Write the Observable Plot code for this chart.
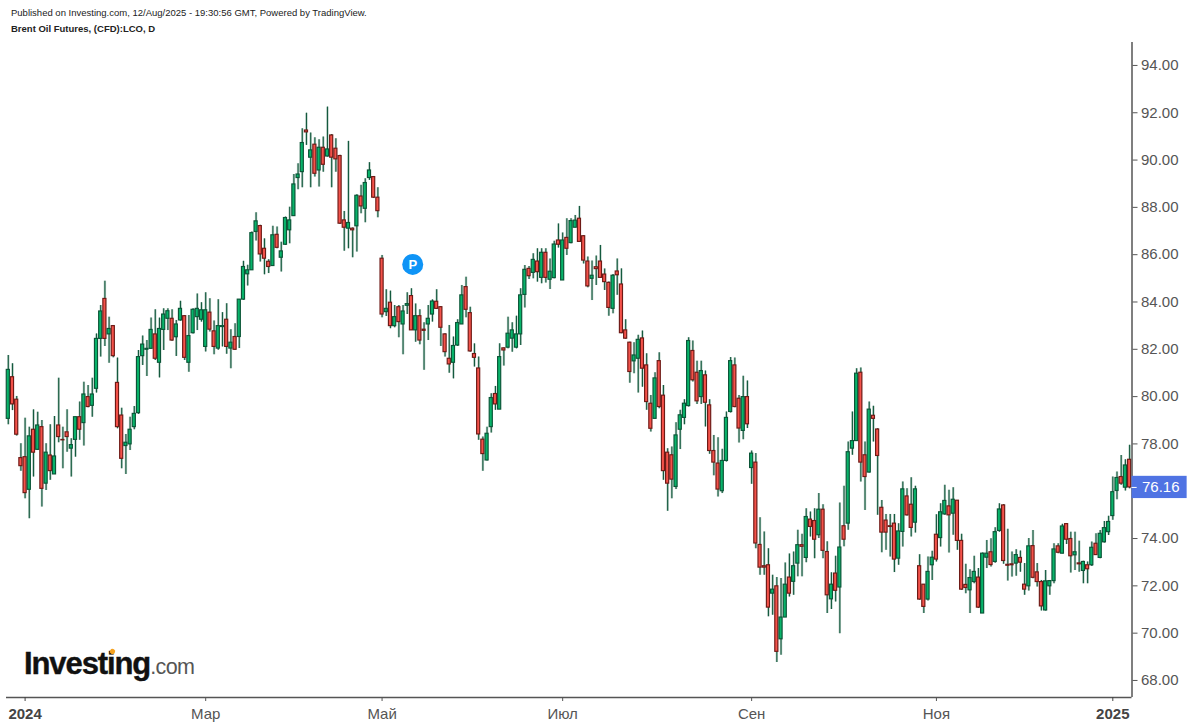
<!DOCTYPE html>
<html>
<head>
<meta charset="utf-8">
<script src="https://cdn.jsdelivr.net/npm/d3@7"></script>
<script src="https://cdn.jsdelivr.net/npm/@observablehq/plot@0.6"></script>
<style>
html,body{margin:0;padding:0;background:#fff;font-family:"Liberation Sans",Arial,sans-serif;}
#wrap{position:relative;width:1200px;height:728px;overflow:hidden;}
.h1{position:absolute;left:11px;top:7px;font-size:9.5px;color:#222;white-space:nowrap;}
.h2{position:absolute;left:11px;top:23px;font-size:9.5px;font-weight:bold;color:#222;white-space:nowrap;}
.logo{position:absolute;left:24px;top:644px;white-space:nowrap;font-size:31px;line-height:40px;font-weight:bold;color:#111;letter-spacing:-1.1px;-webkit-text-stroke:.4px #111;}
.logo span{font-size:21.5px;font-weight:normal;color:#555;letter-spacing:-.6px;-webkit-text-stroke:0;}
.dot{position:absolute;left:110px;top:649px;width:5px;height:5px;background:#f5a11f;border-radius:2px;transform:rotate(30deg);}
svg{display:block;}
</style>
</head>
<body>
<div id="wrap">
<div class="h1">Published on Investing.com, 12/Aug/2025 - 19:30:56 GMT, Powered by TradingView.</div>
<div class="h2">Brent Oil Futures, (CFD):LCO, D</div>
<div id="chart"></div>
<div class="logo">Investing<span>.com</span></div>
<div class="dot"></div>
</div>
<script>
const opens=[79.06,80.82,79.87,77.40,77.44,76.06,78.60,77.75,78.71,76.32,
77.51,76.71,78.78,78.17,78.49,77.80,78.17,79.13,78.88,79.98,
79.61,80.33,82.44,84.13,82.63,82.98,80.58,79.20,77.91,77.98,
78.71,79.30,81.71,81.98,82.02,82.63,81.43,82.82,83.29,83.29,
82.51,83.22,83.40,81.43,82.68,83.36,83.25,82.10,83.55,82.76,
82.03,82.94,83.25,82.03,82.52,82.52,84.10,85.17,85.34,86.96,
87.21,86.25,85.70,85.52,86.84,85.87,86.42,87.03,87.63,89.24,
89.49,91.25,90.10,90.65,89.56,90.52,90.15,91.04,90.48,90.17,
87.45,87.10,87.10,87.20,88.46,87.94,89.24,89.28,88.41,85.83,
83.57,83.97,82.98,83.78,83.05,83.84,84.25,82.80,83.40,82.83,
83.05,83.47,84.01,83.78,82.63,81.60,81.43,82.16,83.05,84.63,
83.53,81.80,81.19,78.18,77.30,78.71,80.11,79.45,82.04,82.07,
82.45,82.07,82.63,84.30,85.40,85.23,85.71,85.02,86.08,84.94,
85.01,86.60,84.91,86.71,86.49,87.14,87.52,86.78,85.71,84.98,
85.47,85.71,85.16,84.81,83.71,85.29,84.74,82.80,82.28,81.49,
81.60,82.46,81.32,79.70,79.06,81.50,80.04,77.63,77.52,76.18,
78.60,79.10,79.60,81.93,81.01,79.98,80.90,79.63,77.70,77.17,
76.00,77.28,79.35,81.32,79.91,78.55,79.98,76.98,77.21,73.73,
72.83,72.87,71.67,71.98,69.74,70.66,72.35,72.17,72.94,73.72,
73.18,74.80,74.74,74.14,75.22,73.43,71.43,72.52,71.93,74.52,
74.63,77.80,78.12,81.01,77.52,76.79,79.19,78.61,75.30,74.76,
74.52,74.63,73.15,74.28,75.78,75.43,74.67,72.83,72.05,71.42,
72.87,74.16,74.02,75.02,75.36,75.05,75.60,73.90,72.04,71.81,
72.16,72.35,70.83,73.19,73.42,73.01,74.32,75.40,72.89,72.91,
72.94,73.18,72.05,71.98,73.68,72.57,72.16,70.96,71.98,72.20,
73.67,73.36,74.61,73.98,73.29,72.95,72.63,72.87,72.87,73.78,
73.18,73.84,74.27,74.95,76.01,76.60,76.15,77.33];
const closes=[81.13,79.67,78.39,77.06,75.92,78.32,77.63,78.78,76.10,77.63,
76.85,77.47,78.29,78.15,78.29,77.95,79.13,78.60,80.09,79.56,
80.09,82.44,83.60,82.44,82.86,81.71,78.71,77.37,78.05,78.60,
79.27,81.67,82.20,82.02,82.82,81.60,82.86,83.47,83.61,82.37,
83.05,83.71,81.64,82.56,83.67,83.71,83.65,83.65,82.83,82.10,
82.98,82.98,82.10,82.28,81.98,84.10,85.48,85.34,86.91,87.41,
86.01,85.83,85.48,86.82,86.29,86.14,87.55,87.45,88.97,89.39,
90.72,91.17,90.41,89.42,90.52,89.80,90.45,90.10,90.03,87.31,
87.14,87.34,87.03,88.49,88.04,89.03,89.56,88.41,87.84,83.47,
83.71,82.98,83.36,83.15,83.60,83.91,82.80,83.40,82.37,82.78,
83.29,84.02,83.71,82.91,81.88,81.36,82.14,83.11,84.28,83.67,
81.91,81.64,78.40,77.57,78.43,79.94,79.67,81.67,81.95,82.66,
82.80,82.63,84.28,85.36,85.09,85.78,85.26,86.08,85.02,85.28,
86.43,86.42,86.60,86.25,87.42,87.44,86.54,85.75,84.66,85.11,
85.39,85.02,84.84,83.75,85.11,85.13,82.68,82.45,81.04,81.74,
82.40,81.18,79.77,78.64,80.77,79.56,76.85,76.32,76.49,78.36,
79.21,79.70,82.35,80.69,79.80,81.08,79.74,77.70,77.21,76.07,
77.28,79.10,81.50,79.56,78.65,79.98,78.83,77.59,73.79,72.77,
72.77,71.08,71.84,69.21,70.66,72.05,71.67,72.83,73.72,73.65,
74.91,74.49,73.95,75.22,73.48,71.60,72.05,71.79,73.62,73.95,
77.65,78.12,80.97,77.21,76.60,79.45,79.06,77.49,74.25,74.25,
74.49,73.11,74.30,76.08,74.98,74.45,76.08,71.42,71.11,72.59,
73.19,73.11,75.11,75.59,74.98,75.64,73.90,71.84,71.91,72.33,
72.59,71.08,73.36,73.36,72.88,74.27,75.23,73.05,72.85,72.87,
73.30,72.98,71.84,73.67,72.34,72.16,71.13,72.19,72.20,73.54,
73.40,74.51,73.95,73.25,73.42,72.91,73.01,72.70,73.61,73.30,
74.20,74.44,74.70,75.96,76.56,76.32,77.09,76.16];
const highs=[81.74,81.39,80.01,78.01,79.09,78.71,79.44,79.34,78.99,78.01,
78.81,79.16,80.78,78.71,79.44,78.22,79.13,79.77,80.61,80.47,
80.78,82.65,83.85,84.88,83.36,83.01,81.63,79.51,78.40,79.13,
79.58,81.95,82.56,82.37,83.32,83.67,83.32,83.71,83.71,83.67,
83.22,84.03,83.43,83.43,83.71,84.34,83.97,84.39,84.14,83.20,
84.10,83.55,83.93,82.83,83.08,84.10,85.72,85.55,86.96,87.77,
87.24,86.67,85.79,87.20,87.17,86.53,87.59,88.01,89.39,89.84,
91.32,91.98,91.14,90.94,90.86,90.97,92.24,91.08,90.90,90.20,
87.83,90.79,87.13,88.53,88.93,89.21,89.89,89.31,88.83,85.97,
84.52,84.46,83.85,83.85,83.85,84.39,84.56,83.92,83.67,83.12,
83.85,84.09,84.52,83.81,82.66,83.01,82.52,83.25,84.70,85.05,
83.78,82.23,81.67,78.29,78.71,80.12,80.43,82.23,82.06,83.36,
83.12,83.40,84.56,85.54,85.50,86.04,86.25,86.25,86.25,85.82,
86.57,87.30,86.92,87.52,87.52,87.66,88.04,86.81,85.90,85.73,
85.94,86.39,85.40,84.84,85.16,85.82,85.40,83.25,82.30,82.28,
82.59,82.77,81.81,80.05,81.01,81.85,80.47,77.80,77.87,78.90,
79.42,79.87,82.49,82.35,81.50,81.50,81.08,79.87,78.36,78.26,
77.77,79.35,81.65,81.63,80.05,80.86,80.66,77.70,77.59,74.88,
74.28,73.57,72.45,72.35,72.31,72.97,73.35,73.43,74.35,74.18,
75.26,75.12,75.26,75.90,75.43,73.86,72.55,73.25,75.50,76.21,
78.08,79.35,81.18,81.21,78.08,79.77,79.59,78.64,75.61,75.02,
75.02,75.02,74.63,76.39,76.11,76.57,76.21,73.32,72.06,73.22,
73.46,75.01,75.47,76.25,76.04,76.15,75.61,74.18,72.91,72.68,
73.25,72.73,73.39,73.92,73.99,74.46,75.47,75.44,74.39,73.43,
73.53,73.47,72.94,74.00,74.34,72.94,72.23,72.65,72.23,73.78,
73.78,74.60,74.63,74.27,74.27,73.89,73.04,73.01,73.85,74.20,
74.34,74.72,74.94,76.60,76.81,77.51,77.33,77.94];
const lows=[78.81,79.41,78.33,76.84,75.68,74.84,76.60,77.72,75.33,76.03,
76.46,76.71,78.05,76.95,77.65,76.60,77.44,78.15,77.91,79.53,
79.13,80.15,81.67,82.12,81.41,81.64,78.64,76.95,76.71,77.72,
78.60,79.25,81.32,80.85,82.02,81.53,80.79,81.95,82.79,82.34,
81.70,83.19,81.53,81.03,82.65,82.79,83.15,81.89,82.73,81.77,
81.96,82.10,81.79,81.18,81.96,82.03,84.07,84.68,85.34,86.58,
85.69,85.15,85.20,85.52,86.25,85.27,86.39,86.46,87.62,88.75,
88.83,90.62,88.83,89.28,88.86,89.49,90.13,88.83,89.49,87.28,
86.15,86.25,85.87,86.11,87.73,87.35,89.14,88.37,87.56,83.33,
83.39,82.87,82.91,82.49,81.77,83.47,82.80,82.30,82.19,81.11,
82.37,83.15,83.68,82.12,81.67,80.99,80.75,82.12,83.05,83.33,
81.88,81.25,78.15,76.84,77.28,78.46,79.42,79.45,81.29,82.02,
81.88,82.02,82.16,83.75,84.95,84.98,84.84,84.77,84.80,84.53,
84.98,86.28,84.91,85.97,86.46,87.14,86.53,85.61,84.60,84.06,
84.70,85.01,84.49,83.40,83.50,84.28,82.66,82.42,80.57,80.97,
80.15,80.40,79.42,78.50,79.06,79.49,76.46,75.15,75.68,76.07,
77.76,78.81,79.56,80.62,79.67,79.67,78.72,77.56,76.65,75.76,
75.90,77.24,79.31,79.53,78.04,78.18,78.65,76.29,73.57,72.45,
72.45,70.69,70.76,68.76,69.07,70.66,71.53,71.60,72.38,72.38,
72.98,74.07,73.15,74.00,73.15,70.83,71.00,71.32,69.98,73.65,
74.35,77.52,78.12,76.39,75.19,76.77,78.08,74.98,73.40,73.50,
73.22,72.56,72.87,73.64,74.95,74.07,74.23,71.39,70.83,71.36,
72.23,73.01,73.64,74.98,73.39,74.14,73.50,71.81,71.67,70.83,
72.09,71.04,70.83,72.73,72.80,72.96,74.27,72.91,72.20,72.37,
72.41,72.58,71.60,71.78,72.30,71.95,70.94,70.94,71.60,72.09,
73.36,73.36,73.75,72.54,72.65,72.58,72.09,72.09,72.82,73.29,
73.15,73.81,74.13,74.77,75.64,76.25,76.01,76.10];

const monthTicks=[47,89,132,177,221];
const monthLabels=["Мар","Май","Июл","Сен","Ноя"];
const yearTicks=[4,263];
const yearLabels=["2024","2025"];
const priceTicks=[68,70,72,74,78,80,82,84,86,88,90,92,94];
const lastPrice=76.16;
const marker=[{i:96.3,price:85.59,label:"P"}];

const upFill="#08b46a",upEdge="#0b5537",downFill="#f4524a",downEdge="#6e1a16",wickColor="#145a3e",axisColor="#555";
const index=d3.range(opens.length);
const xLeft=-0.43,xRight=267.57,yLow=67.28,yHigh=94.97;

const plot=Plot.plot({
  width:1200,height:728,
  marginLeft:6,marginRight:68.5,marginTop:42,marginBottom:31,
  style:{fontFamily:'"Liberation Sans",Arial,sans-serif',background:"#fff",overflow:"visible"},
  x:{domain:[xLeft,xRight],axis:null},
  y:{domain:[yLow,yHigh],axis:null},
  color:{type:"identity"},
  marks:[
    Plot.ruleX(index,{x:d=>d,y1:d=>lows[d],y2:d=>highs[d],stroke:wickColor,strokeWidth:2.4,strokeOpacity:0.3}),
    Plot.ruleX(index,{x:d=>d,y1:d=>lows[d],y2:d=>highs[d],stroke:wickColor,strokeWidth:1.1}),
    Plot.rect(index,{
      x1:d=>d-0.37,x2:d=>d+0.37,
      y1:d=>Math.min(opens[d],closes[d]),y2:d=>Math.max(opens[d],closes[d]),
      fill:d=>closes[d]>=opens[d]?upFill:downFill,
      stroke:d=>closes[d]>=opens[d]?upEdge:downEdge,
      strokeWidth:1.15
    }),
    Plot.ruleX([xRight],{stroke:axisColor,strokeWidth:1.5}),
    Plot.ruleY([yLow],{stroke:axisColor,strokeWidth:1.5}),
    Plot.axisY({anchor:"right",ticks:priceTicks,tickSize:5,tickPadding:4,tickFormat:d=>d.toFixed(2),fontSize:15,label:null,color:axisColor}),
    Plot.axisX({anchor:"bottom",ticks:monthTicks,tickSize:4,tickPadding:7,tickFormat:d=>monthLabels[monthTicks.indexOf(d)],fontSize:15,label:null,color:axisColor}),
    Plot.axisX({anchor:"bottom",ticks:yearTicks,tickSize:4,tickPadding:7,tickFormat:d=>yearLabels[yearTicks.indexOf(d)],fontSize:15,fontWeight:"bold",label:null,color:"#444"}),
    Plot.rect([lastPrice],{x1:xRight,x2:280.7,y1:d=>d-0.47,y2:d=>d+0.47,fill:"#4f73e3"}),
    Plot.ruleY([lastPrice],{x1:xRight,x2:268.8,stroke:"#fff",strokeWidth:1}),
    Plot.text([lastPrice],{x:xRight,y:d=>d,text:d=>d.toFixed(2),fill:"#fff",fontSize:15,textAnchor:"start",dx:10}),
    Plot.dot(marker,{x:"i",y:"price",r:10.5,fill:"#0f94f6"}),
    Plot.text(marker,{x:"i",y:"price",text:"label",fill:"#fff",fontSize:13,fontWeight:"bold"})
  ]
});
document.getElementById("chart").appendChild(plot);
</script>
</body>
</html>
